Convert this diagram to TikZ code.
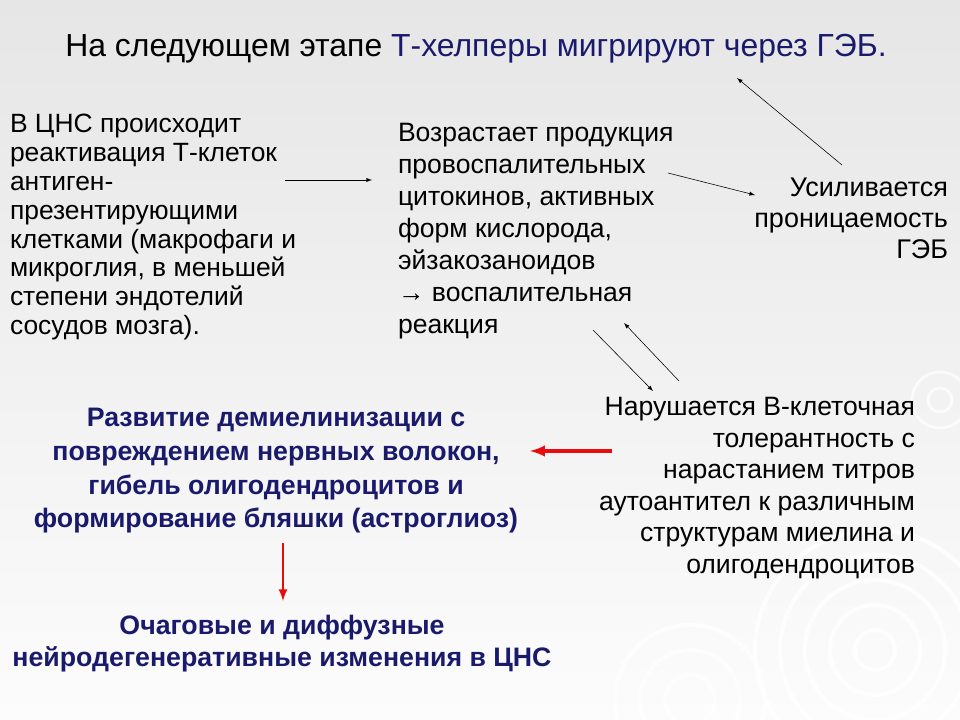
\documentclass[tikz,border=0pt]{standalone}
\usepackage{fontspec}
\setmainfont{Liberation Sans}
\definecolor{slideblue}{RGB}{26,26,108}
\definecolor{arrowred}{RGB}{232,12,12}
\definecolor{bgtop}{RGB}{230,230,230}
\definecolor{bgbottom}{RGB}{252,252,252}

\begin{document}
\begin{tikzpicture}[x=0.025cm,y=-0.025cm,inner sep=0pt,outer sep=0pt,>=latex,
plaintext/.style={font=\fontsize{19}{22.5}\selectfont},
bluetext/.style={font=\bfseries\fontsize{19}{23.9}\selectfont,text=slideblue,align=center},
thinarrow/.style={->,thin},
redarrow/.style={->,draw=arrowred,line width=2.6pt}]
\useasboundingbox (0,0) rectangle (960,720);
\clip (0,0) rectangle (960,720);
% background
\shade[top color=bgtop,bottom color=bgbottom] (0,0) rectangle (960,720);
\foreach \r in {20,45,70,95,120}
  \draw[white,line width=3pt,opacity=0.8] (875,650) circle (\r);
\foreach \r in {25,50,75}
  \draw[white,line width=3pt,opacity=0.7] (690,700) circle (\r);
\foreach \r in {12,28}
  \draw[white,line width=2pt,opacity=0.7] (940,400) circle (\r);

% title
\draw (476,57) node[anchor=base,font=\fontsize{22.7}{26}\selectfont] (title)
  {На следующем этапе \textcolor{slideblue}{Т-хелперы мигрируют через ГЭБ.}};

% upper row
\draw (10,114) node[plaintext,anchor=north west,align=left,font=\fontsize{18.8}{20.55}\selectfont] (reakt)
  {В ЦНС происходит\\реактивация Т-клеток\\антиген-\\презентирующими\\клетками (макрофаги и\\микроглия, в меньшей\\степени эндотелий\\сосудов мозга).};
\draw (398,123.5) node[plaintext,anchor=north west,align=left,font=\fontsize{18.9}{22.7}\selectfont] (cyto)
  {Возрастает продукция\\провоспалительных\\цитокинов, активных\\форм кислорода,\\эйзакозаноидов\\→ воспалительная\\реакция};
\draw (948,177.5) node[plaintext,anchor=north east,align=right,font=\fontsize{19.2}{22.3}\selectfont] (perm)
  {Усиливается\\проницаемость\\ГЭБ};

% lower row
\draw (915,397.5) node[plaintext,anchor=north east,align=right,font=\fontsize{18.9}{22.4}\selectfont] (btol)
  {Нарушается В-клеточная\\толерантность с\\нарастанием титров\\аутоантител к различным\\структурам миелина и\\олигодендроцитов};
\draw (276,408.5) node[bluetext,anchor=north] (demy)
  {Развитие демиелинизации с\\повреждением нервных волокон,\\гибель олигодендроцитов и\\формирование бляшки (астроглиоз)};
\draw (282,615.5) node[bluetext,anchor=north,font=\bfseries\fontsize{19}{22.7}\selectfont] (neuro)
  {Очаговые и диффузные\\нейродегенеративные изменения в ЦНС};

% arrow ends
\coordinate (a1s) at (285,180); \coordinate (a1e) at (372,180);
\coordinate (a2s) at (668,173); \coordinate (a2e) at (755,195);
\coordinate (a3s) at (842,165); \coordinate (a3e) at (737,78);
\coordinate (a4s) at (593,330); \coordinate (a4e) at (653,391);
\coordinate (a5s) at (679,381); \coordinate (a5e) at (624,323);
\coordinate (r1s) at (612,451); \coordinate (r1e) at (530,451);
\coordinate (r2s) at (283,543); \coordinate (r2e) at (283,601);

\draw[thinarrow] (a1s) -- (a1e);
\draw[thinarrow] (a2s) -- (a2e);
\draw[thinarrow] (a3s) -- (a3e);
\draw[thinarrow] (a4s) -- (a4e);
\draw[thinarrow] (a5s) -- (a5e);
\draw[redarrow] (r1s) -- (r1e);
\draw[redarrow,line width=1.8pt] (r2s) -- (r2e);
\end{tikzpicture}
\end{document}
